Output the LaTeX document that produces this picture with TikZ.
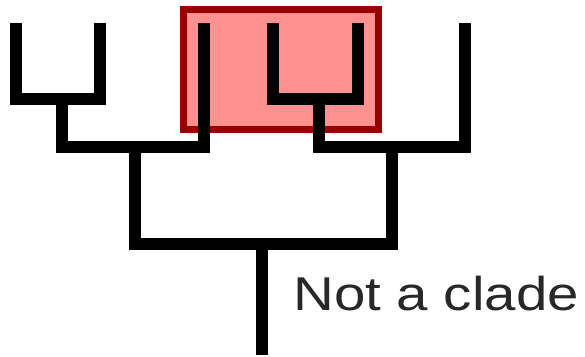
\documentclass[tikz,border=0pt]{standalone}
\usepackage{fontspec}
\setmainfont{Liberation Sans}
\usepackage{tikz}
\usetikzlibrary{positioning,calc}
\definecolor{cladefill}{RGB}{255,145,145}
\definecolor{claderule}{RGB}{153,0,0}
\definecolor{labelgray}{RGB}{40,40,40}
\tikzset{
  branch/.style={draw=black,line width=0.24cm,line join=miter,line cap=butt},
  cladebox/.style={draw=claderule,line width=0.14cm,fill=cladefill},
  cladelabel/.style={inner sep=0pt,anchor=base west,text=labelgray,font=\fontsize{27}{30}\selectfont}
}
\begin{document}
\begin{tikzpicture}[x=0.02cm,y=-0.02cm]
  \useasboundingbox (0,0) rectangle (585,357);
  \coordinate (la) at (16,23);
  \coordinate (lb) at (100,23);
  \coordinate (lc) at (204,23);
  \coordinate (ld) at (273,23);
  \coordinate (le) at (357.5,23);
  \coordinate (lf) at (465,23);
  \coordinate (ab) at (62,99);
  \coordinate (de) at (319,99);
  \coordinate (abc) at (135,147);
  \coordinate (def) at (392,147);
  \coordinate (root) at (261.5,244);
  \coordinate (base) at (261.5,355);
  \draw[cladebox] (183,9.5) rectangle (378.5,129.5);
  \draw[branch] (la) |- (lb |- ab) -- (lb);
  \draw[branch] (ld) |- (le |- de) -- (le);
  \draw[branch] (ab) -- (ab |- abc) -| (lc);
  \draw[branch] (de) -- (de |- def) -| (lf);
  \draw[branch] (abc) -- (abc |- root) -| (def);
  \draw[branch] (root) -- (base);
  \node[cladelabel] (label) at (293,311) {\scalebox{1.19}[1]{Not a clade}};
\end{tikzpicture}
\end{document}
